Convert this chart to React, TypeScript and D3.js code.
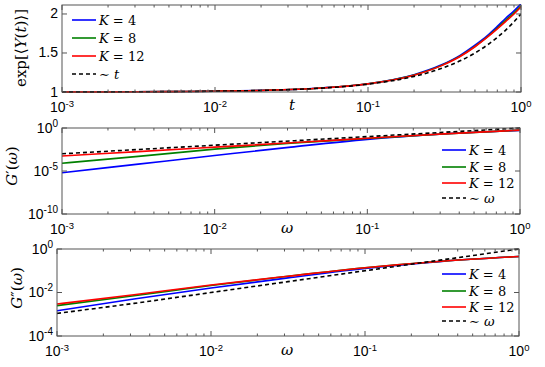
import React from 'react'
import * as d3 from 'd3'

// panel 1: exp<Y(t)>
const tGrid = [0.001, 0.002, 0.005, 0.01, 0.02, 0.05, 0.1, 0.2, 0.3, 0.4, 0.5, 0.6, 0.7, 0.8, 0.9, 1]
const yK4 = [1.001, 1.002, 1.005, 1.01, 1.021, 1.052, 1.106, 1.222, 1.345, 1.47, 1.6, 1.72, 1.84, 1.95, 2.04, 2.13]
const yK8 = [1.001, 1.002, 1.005, 1.01, 1.02, 1.051, 1.105, 1.218, 1.338, 1.46, 1.585, 1.705, 1.82, 1.925, 2.015, 2.1]
const yK12 = [1.001, 1.002, 1.005, 1.01, 1.02, 1.051, 1.104, 1.215, 1.335, 1.455, 1.58, 1.7, 1.81, 1.91, 2.0, 2.09]
const yLinT = [1.001, 1.002, 1.005, 1.01, 1.02, 1.05, 1.1, 1.2, 1.3, 1.4, 1.5, 1.6, 1.7, 1.8, 1.9, 2.0]

// panels 2 and 3: G'(w), G''(w)
const wGrid = [0.001, 0.00316, 0.01, 0.0316, 0.1, 0.316, 1]
const gpK4 = [6.3e-6, 6.3e-5, 6.3e-4, 6.0e-3, 4.8e-2, 0.2, 0.53]
const gpK8 = [7.9e-5, 5.0e-4, 3.5e-3, 1.75e-2, 6.0e-2, 0.2, 0.56]
const gpK12 = [5.5e-4, 1.8e-3, 5.9e-3, 1.9e-2, 6.3e-2, 0.21, 0.56]
const gpLinW = [0.001, 0.00316, 0.01, 0.0316, 0.1, 0.316, 1]
const gppK4 = [1.45e-3, 5.0e-3, 1.6e-2, 4.7e-2, 0.126, 0.27, 0.45]
const gppK8 = [2.5e-3, 7.1e-3, 2.1e-2, 5.6e-2, 0.138, 0.275, 0.45]
const gppK12 = [2.95e-3, 7.9e-3, 2.2e-2, 5.6e-2, 0.138, 0.275, 0.45]
const gppLinW = [0.0011, 0.00316, 0.01, 0.0316, 0.1, 0.316, 1]

const logTicks = [1e-3, 1e-2, 1e-1, 1]
const logTickExp = ['-3', '-2', '-1', '0']
const seriesNames = ['4', '8', '12']
const seriesColors = ['#0000ff', '#008000', '#ff0000']

const axisColor = '#555'
const tickFont = 'Liberation Sans, Arial, sans-serif'
const mathFont = 'DejaVu Serif, serif'

type Series = { x: number[]; y: number[]; color: string; dash?: string }

type PanelProps = {
  left: number; right: number; top: number; bottom: number
  yDomain: [number, number]; yLog: boolean
  yTicks: number[]; yTickLabels: { base: string; exp?: string }[]
  series: Series[]
  legendX: number; legendY: number[]; legendLast: string
  xLabel: string; xLabelPos: [number, number]
  yLabel: React.ReactNode; yLabelPos: [number, number]
}

function Panel(p: PanelProps) {
  const x = d3.scaleLog().domain([1e-3, 1]).range([p.left, p.right])
  const y = p.yLog
    ? d3.scaleLog().domain(p.yDomain).range([p.bottom, p.top])
    : d3.scaleLinear().domain(p.yDomain).range([p.bottom, p.top])

  const minor: number[] = []
  for (let e = -3; e < 0; e++) for (let k = 2; k < 10; k++) minor.push(k * Math.pow(10, e))

  const line = (s: Series) =>
    d3.line<number>()
      .x((_, i) => x(s.x[i]))
      .y(v => y(v))
      .curve(d3.curveMonotoneX)(s.y) || ''

  return (
    <g>
      <defs>
        <clipPath id={`clip${p.top}`}>
          <rect x={p.left} y={p.top - 1} width={p.right - p.left} height={p.bottom - p.top + 2} />
        </clipPath>
      </defs>
      <g clipPath={`url(#clip${p.top})`}>
        {p.series.map((s, i) => (
          <path key={i} d={line(s)} fill="none" stroke={s.color} strokeWidth={1.6}
            strokeDasharray={s.dash} />
        ))}
      </g>
      {/* frame */}
      <rect x={p.left} y={p.top} width={p.right - p.left} height={p.bottom - p.top}
        fill="none" stroke={axisColor} strokeWidth={1} />
      {/* x ticks */}
      {logTicks.map(t => (
        <g key={t}>
          <line x1={x(t)} x2={x(t)} y1={p.bottom} y2={p.bottom - 5} stroke={axisColor} />
          <line x1={x(t)} x2={x(t)} y1={p.top} y2={p.top + 5} stroke={axisColor} />
        </g>
      ))}
      {minor.map(t => (
        <g key={t}>
          <line x1={x(t)} x2={x(t)} y1={p.bottom} y2={p.bottom - 2.5} stroke={axisColor} />
          <line x1={x(t)} x2={x(t)} y1={p.top} y2={p.top + 2.5} stroke={axisColor} />
        </g>
      ))}
      {logTicks.map((t, i) => (
        <text key={t} x={x(t)} y={p.bottom + 20} textAnchor="middle" fontFamily={tickFont} fontSize={14}>
          10<tspan dy={-5} fontSize={9.5}>{logTickExp[i]}</tspan>
        </text>
      ))}
      {/* y ticks */}
      {p.yTicks.map((t, i) => (
        <g key={t}>
          <line x1={p.left} x2={p.left + 5} y1={y(t)} y2={y(t)} stroke={axisColor} />
          <line x1={p.right} x2={p.right - 5} y1={y(t)} y2={y(t)} stroke={axisColor} />
          <text x={p.left - 4} y={y(t) + 4.5} textAnchor="end" fontFamily={tickFont} fontSize={14}>
            {p.yTickLabels[i].base}
            {p.yTickLabels[i].exp !== undefined && (
              <tspan dy={-6} fontSize={10}>{p.yTickLabels[i].exp}</tspan>
            )}
          </text>
        </g>
      ))}
      {/* legend */}
      {p.legendY.map((ly, i) => (
        <g key={i}>
          <line x1={p.legendX} x2={p.legendX + 24} y1={ly} y2={ly}
            stroke={i < 3 ? seriesColors[i] : '#000'} strokeWidth={1.6}
            strokeDasharray={i < 3 ? undefined : '4,3'} />
          <text x={p.legendX + 27} y={ly + 4.5} fontFamily={mathFont} fontSize={13}>
            {i < 3 ? (
              <><tspan fontStyle="italic">K</tspan> = {seriesNames[i]}</>
            ) : (
              <>∼ <tspan fontStyle="italic">{p.legendLast}</tspan></>
            )}
          </text>
        </g>
      ))}
      <text x={p.xLabelPos[0]} y={p.xLabelPos[1]} textAnchor="middle" fontFamily={mathFont}
        fontStyle="italic" fontSize={15}>{p.xLabel}</text>
      <text transform={`translate(${p.yLabelPos[0]},${p.yLabelPos[1]}) rotate(-90)`} textAnchor="middle"
        fontFamily={mathFont} fontSize={15}>{p.yLabel}</text>
    </g>
  )
}

export default function App() {
  const mk = (xs: number[], ys: number[][]): Series[] => [
    ...ys.slice(0, 3).map((v, i) => ({ x: xs, y: v, color: seriesColors[i] })),
    { x: xs, y: ys[3], color: '#000', dash: '4,3' },
  ]
  return (
    <svg width={545} height={367} style={{ position: 'absolute', left: 0, top: 0, background: '#fff' }}>
      <Panel left={62} right={521} top={5} bottom={92}
        yDomain={[1, 2.115]} yLog={false} yTicks={[1, 1.5, 2]}
        yTickLabels={[{ base: '1' }, { base: '1.5' }, { base: '2' }]}
        series={mk(tGrid, [yK4, yK8, yK12, yLinT])}
        legendX={72} legendY={[20, 38, 56, 74]} legendLast="t"
        xLabel="t" xLabelPos={[292, 110]}
        yLabel={<>exp[⟨<tspan fontStyle="italic">Y</tspan>(<tspan fontStyle="italic">t</tspan>)⟩]</>}
        yLabelPos={[26, 48]} />
      <Panel left={62} right={520} top={128} bottom={214}
        yDomain={[1e-10, 1]} yLog={true} yTicks={[1e-10, 1e-5, 1]}
        yTickLabels={[{ base: '10', exp: '-10' }, { base: '10', exp: '-5' }, { base: '10', exp: '0' }]}
        series={mk(wGrid, [gpK4, gpK8, gpK12, gpLinW])}
        legendX={442} legendY={[150, 167, 183, 198]} legendLast="ω"
        xLabel="ω" xLabelPos={[287, 233]}
        yLabel={<><tspan fontStyle="italic">G</tspan>′(<tspan fontStyle="italic">ω</tspan>)</>}
        yLabelPos={[17, 166]} />
      <Panel left={57} right={519} top={249} bottom={336}
        yDomain={[1e-4, 1]} yLog={true} yTicks={[1e-4, 1e-2, 1]}
        yTickLabels={[{ base: '10', exp: '-4' }, { base: '10', exp: '-2' }, { base: '10', exp: '0' }]}
        series={mk(wGrid, [gppK4, gppK8, gppK12, gppLinW])}
        legendX={442} legendY={[274, 291, 307, 321]} legendLast="ω"
        xLabel="ω" xLabelPos={[287, 355]}
        yLabel={<><tspan fontStyle="italic">G</tspan>″(<tspan fontStyle="italic">ω</tspan>)</>}
        yLabelPos={[22, 288]} />
    </svg>
  )
}
